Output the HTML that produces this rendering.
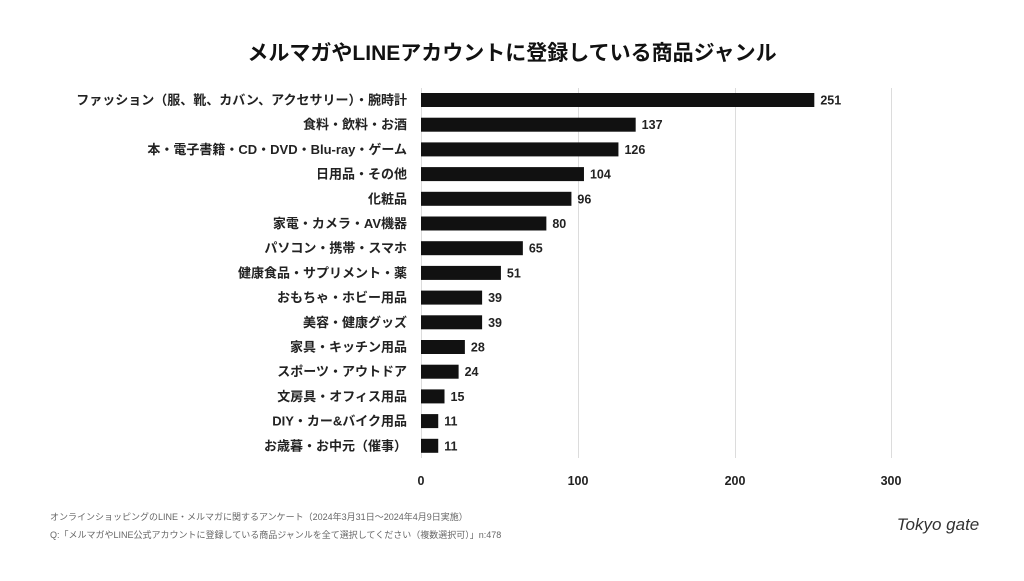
<!DOCTYPE html>
<html><head><meta charset="utf-8"><style>
body{margin:0;background:#fff;}
svg text{font-family:"Liberation Sans","Noto Sans CJK JP",sans-serif;}
</style></head><body>
<svg width="1024" height="576" viewBox="0 0 1024 576" xmlns="http://www.w3.org/2000/svg">
<rect width="1024" height="576" fill="#fff"/>
<text x="512" y="60" text-anchor="middle" font-size="21" font-weight="bold" fill="#111">メルマガやLINEアカウントに登録している商品ジャンル</text>
<g stroke="#dcdcdc" stroke-width="1">
<line x1="421.5" y1="88" x2="421.5" y2="458"/>
<line x1="578.5" y1="88" x2="578.5" y2="458"/>
<line x1="735.5" y1="88" x2="735.5" y2="458"/>
<line x1="891.5" y1="88" x2="891.5" y2="458"/>
</g>
<g font-size="12.5" font-weight="bold" fill="#222" text-anchor="middle">
<text x="421" y="485">0</text><text x="578" y="485">100</text><text x="735" y="485">200</text><text x="891" y="485">300</text>
</g>
<g id="bars" font-size="13" font-weight="bold" fill="#222"></g>
<text x="50" y="520" font-size="9" fill="#666">オンラインショッピングのLINE・メルマガに関するアンケート（2024年3月31日〜2024年4月9日実施）</text>
<text x="50" y="538" font-size="9" fill="#666">Q:「メルマガやLINE公式アカウントに登録している商品ジャンルを全て選択してください（複数選択可）」n:478</text>
<text x="938" y="530" text-anchor="middle" font-size="17" font-style="italic" font-family="Liberation Serif,serif" fill="#333">Tokyo gate</text>
</svg>
<script>
var d=[["ファッション（服、靴、カバン、アクセサリー）・腕時計",251],["食料・飲料・お酒",137],["本・電子書籍・CD・DVD・Blu-ray・ゲーム",126],["日用品・その他",104],["化粧品",96],["家電・カメラ・AV機器",80],["パソコン・携帯・スマホ",65],["健康食品・サプリメント・薬",51],["おもちゃ・ホビー用品",39],["美容・健康グッズ",39],["家具・キッチン用品",28],["スポーツ・アウトドア",24],["文房具・オフィス用品",15],["DIY・カー&バイク用品",11],["お歳暮・お中元（催事）",11]];
var g=document.getElementById('bars'),h="";
d.forEach(function(r,i){var c=100+i*24.7,w=r[1]*1.567;
h+='<rect x="421" y="'+(c-7)+'" width="'+w+'" height="14" fill="#111"/>';
h+='<text x="407" y="'+(c+4.5)+'" text-anchor="end">'+r[0]+'</text>';
h+='<text x="'+(421+w+6)+'" y="'+(c+4.5)+'" font-size="12.5">'+r[1]+'</text>';});
g.innerHTML=h;
</script>
</body></html>
